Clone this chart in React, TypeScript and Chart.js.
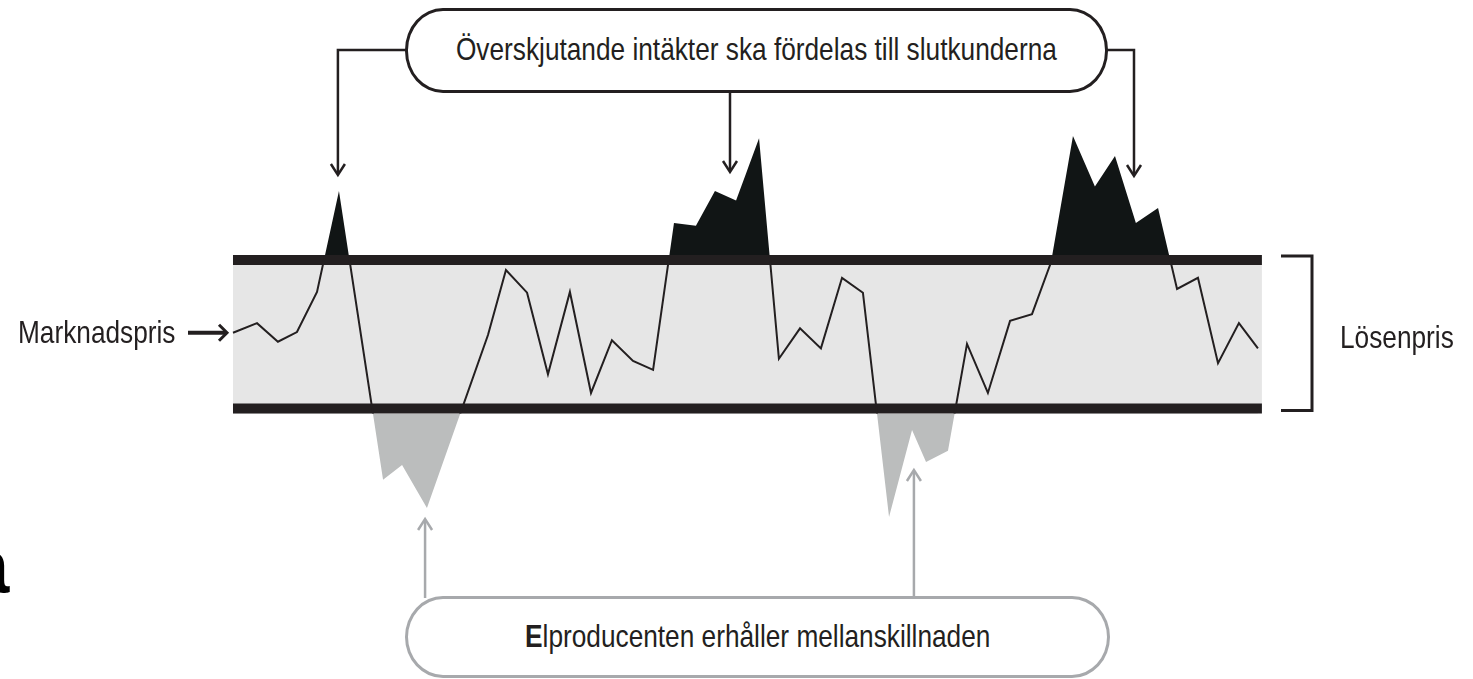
import React, { useEffect, useRef } from 'react';
import { Chart, registerables } from 'chart.js';

Chart.register(...registerables);

// Time (hours) and market price
const TIME = [0, 1.15, 2.15, 3.06, 4.02, 5.07, 7.18, 8.09, 9.28, 12.2, 13.06, 14.07, 15.07, 16.12, 17.13, 18.13, 19.14, 20.1, 21.1, 22.15, 23.06, 24.07, 25.17, 26.12, 27.13, 28.13, 29.14, 30.14, 31.39, 32.49, 33.16, 34.21, 35.12, 36.12, 37.18, 38.23, 39.14, 40.19, 41.24, 42.2, 43.2, 44.26, 45.17, 46.17, 47.13, 48.13, 49.04];
const PRICE = [40.2, 41.5, 39.0, 40.3, 45.7, 59.3, 20.4, 22.4, 16.6, 39.9, 48.65, 45.6, 34.6, 45.7, 32.1, 39.2, 36.4, 35.2, 55.0, 54.6, 59.3, 58.0, 66.4, 36.7, 40.8, 38.1, 47.6, 45.6, 15.4, 27.1, 22.8, 24.3, 38.7, 32.1, 41.8, 42.7, 49.7, 66.7, 59.9, 64.0, 55.0, 57.0, 46.1, 47.6, 36.1, 41.5, 38.1];

// Strike prices (Lösenpris band) and band time span
const STRIKE_LOW = 30;
const STRIKE_HIGH = 50;
const BAND_START = 0;
const BAND_END = 49.23;

// Callout targets (time units)
const TOP_ARROWS = [5.02, 23.78, 43.11];
const BOTTOM_ARROWS = [9.19, 32.58];

const TEXT_TOP = 'Överskjutande intäkter ska fördelas till slutkunderna';
const TEXT_BOTTOM_FIRST = 'E';
const TEXT_BOTTOM_REST = 'lproducenten erhåller mellanskillnaden';
const TEXT_LEFT = 'Marknadspris';
const TEXT_RIGHT = 'Lösenpris';

// Layout
const W = 1473;
const H = 679;
const X_MIN = -11.148;
const X_MAX = 59.33;
const Y_MIN = -6.43;
const Y_MAX = 85.02;
const STRIKE_WIDTH = 10;
const PX_PER_UNIT = H / (Y_MAX - Y_MIN);
const HIGH_EDGE = STRIKE_HIGH + STRIKE_WIDTH / 2 / PX_PER_UNIT;
const LOW_EDGE = STRIKE_LOW - STRIKE_WIDTH / 2 / PX_PER_UNIT;

const INK = '#231f20';
const GREY_INK = '#a7a9ac';

function arrowHead(ctx: CanvasRenderingContext2D, x: number, y: number, dir: number, wing: number, len: number) {
  // dir: 1 pointing down, -1 pointing up
  ctx.beginPath();
  ctx.moveTo(x - wing, y - dir * len);
  ctx.lineTo(x, y);
  ctx.lineTo(x + wing, y - dir * len);
  ctx.stroke();
}

const overlayPlugin = {
  id: 'overlay',
  beforeDatasetDraw(chart: any, args: any) {
    if (args.index === 0) {
      const ctx = chart.ctx;
      const ys = chart.scales.y;
      const top = ys.getPixelForValue(HIGH_EDGE);
      const bot = ys.getPixelForValue(LOW_EDGE);
      ctx.save();
      ctx.beginPath();
      ctx.rect(0, top, chart.width, bot - top);
      ctx.clip();
    }
  },
  afterDatasetDraw(chart: any, args: any) {
    if (args.index === 0) chart.ctx.restore();
  },
  afterDraw(chart: any) {
    const ctx: CanvasRenderingContext2D = chart.ctx;
    const xs = chart.scales.x;
    const ys = chart.scales.y;
    ctx.save();
    ctx.lineCap = 'butt';
    ctx.lineJoin = 'miter';

    // top connectors
    ctx.strokeStyle = INK;
    ctx.lineWidth = 2.5;
    const a1 = xs.getPixelForValue(TOP_ARROWS[0]);
    const a2 = xs.getPixelForValue(TOP_ARROWS[1]);
    const a3 = xs.getPixelForValue(TOP_ARROWS[2]);
    ctx.beginPath();
    ctx.moveTo(406, 50);
    ctx.lineTo(a1, 50);
    ctx.lineTo(a1, 174);
    ctx.stroke();
    arrowHead(ctx, a1, 175, 1, 7, 11);
    ctx.beginPath();
    ctx.moveTo(a2, 92);
    ctx.lineTo(a2, 171);
    ctx.stroke();
    arrowHead(ctx, a2, 172, 1, 7, 11);
    ctx.beginPath();
    ctx.moveTo(1107, 50);
    ctx.lineTo(a3, 50);
    ctx.lineTo(a3, 175);
    ctx.stroke();
    arrowHead(ctx, a3, 176, 1, 7, 11);

    // bottom connectors
    ctx.strokeStyle = GREY_INK;
    const b1 = xs.getPixelForValue(BOTTOM_ARROWS[0]);
    const b2 = xs.getPixelForValue(BOTTOM_ARROWS[1]);
    ctx.beginPath();
    ctx.moveTo(b1, 598);
    ctx.lineTo(b1, 520);
    ctx.stroke();
    arrowHead(ctx, b1, 519, -1, 7, 11);
    ctx.beginPath();
    ctx.moveTo(b2, 598);
    ctx.lineTo(b2, 471);
    ctx.stroke();
    arrowHead(ctx, b2, 470, -1, 7, 11);

    // Marknadspris arrow
    const startY = ys.getPixelForValue(PRICE[0]);
    const startX = xs.getPixelForValue(TIME[0]);
    ctx.strokeStyle = INK;
    ctx.lineWidth = 4;
    ctx.beginPath();
    ctx.moveTo(188, startY);
    ctx.lineTo(startX - 8, startY);
    ctx.stroke();
    ctx.lineWidth = 3;
    arrowHead(ctx, startX - 6, startY, 0, 0, 0);
    ctx.beginPath();
    ctx.moveTo(startX - 14, startY - 8);
    ctx.lineTo(startX - 6, startY);
    ctx.lineTo(startX - 14, startY + 8);
    ctx.stroke();

    // Lösenpris bracket
    const yHi = ys.getPixelForValue(STRIKE_HIGH) - 4;
    const yLo = ys.getPixelForValue(STRIKE_LOW) + 2;
    ctx.lineWidth = 3;
    ctx.beginPath();
    ctx.moveTo(1281, yHi);
    ctx.lineTo(1312, yHi);
    ctx.lineTo(1312, yLo);
    ctx.lineTo(1281, yLo);
    ctx.stroke();
    ctx.restore();
  },
};

const textStyle: React.CSSProperties = {
  fontFamily: '"Liberation Sans", Arial, sans-serif',
  fontSize: 32,
  lineHeight: '32px',
  color: INK,
  whiteSpace: 'nowrap',
  display: 'inline-block',
  transform: 'scaleX(0.82)',
};

export default function App() {
  const ref = useRef<HTMLCanvasElement | null>(null);

  useEffect(() => {
    if (!ref.current) return;
    const price = TIME.map((t, i) => ({ x: t, y: PRICE[i] }));
    const chart = new Chart(ref.current, {
      type: 'line',
      data: {
        datasets: [
          {
            label: 'Marknadspris',
            data: price,
            borderColor: INK,
            borderWidth: 2,
            pointRadius: 0,
            tension: 0,
            fill: false,
          },
          {
            label: 'Lösenpris (övre)',
            data: [{ x: BAND_START, y: STRIKE_HIGH }, { x: BAND_END, y: STRIKE_HIGH }],
            borderColor: INK,
            borderWidth: STRIKE_WIDTH,
            pointRadius: 0,
            fill: false,
          },
          {
            label: 'Lösenpris (nedre)',
            data: [{ x: BAND_START, y: STRIKE_LOW }, { x: BAND_END, y: STRIKE_LOW }],
            borderColor: INK,
            borderWidth: STRIKE_WIDTH,
            pointRadius: 0,
            fill: false,
          },
          {
            label: 'Överskjutande intäkter',
            data: price,
            borderWidth: 0,
            borderColor: 'rgba(0,0,0,0)',
            pointRadius: 0,
            tension: 0,
            fill: { target: { value: HIGH_EDGE }, above: '#111515', below: 'rgba(0,0,0,0)' },
          },
          {
            label: 'Mellanskillnad',
            data: price,
            borderWidth: 0,
            borderColor: 'rgba(0,0,0,0)',
            pointRadius: 0,
            tension: 0,
            fill: { target: { value: LOW_EDGE }, above: 'rgba(0,0,0,0)', below: '#bbbdbd' },
          },
          {
            label: 'Band',
            data: [{ x: BAND_START, y: STRIKE_HIGH }, { x: BAND_END, y: STRIKE_HIGH }],
            borderWidth: 0,
            borderColor: 'rgba(0,0,0,0)',
            pointRadius: 0,
            fill: { target: { value: STRIKE_LOW }, above: '#e6e6e6', below: '#e6e6e6' },
          },
        ],
      },
      options: {
        responsive: false,
        animation: false,
        devicePixelRatio: 1,
        layout: { padding: 0, autoPadding: false },
        plugins: { legend: { display: false }, tooltip: { enabled: false } },
        events: [],
        scales: {
          x: { type: 'linear', display: false, min: X_MIN, max: X_MAX },
          y: { type: 'linear', display: false, min: Y_MIN, max: Y_MAX },
        },
      },
      plugins: [overlayPlugin],
    } as any);
    return () => chart.destroy();
  }, []);

  return (
    <div style={{ position: 'absolute', left: 0, top: 0, width: W, height: H, overflow: 'hidden', background: '#fff' }}>
      <canvas ref={ref} width={W} height={H} style={{ position: 'absolute', left: 0, top: 0, width: W, height: H }} />
      <div
        style={{
          position: 'absolute', left: 405, top: 8, width: 703, height: 85, boxSizing: 'border-box',
          border: `3px solid ${INK}`, borderRadius: '38px / 42px', background: '#fff',
          display: 'flex', alignItems: 'center', justifyContent: 'center',
        }}
      >
        <span style={{ ...textStyle, marginTop: -4 }}>{TEXT_TOP}</span>
      </div>
      <div
        style={{
          position: 'absolute', left: 405, top: 596, width: 705, height: 82, boxSizing: 'border-box',
          border: `3px solid ${GREY_INK}`, borderRadius: '38px / 41px', background: '#fff',
          display: 'flex', alignItems: 'center', justifyContent: 'center',
        }}
      >
        <span style={{ ...textStyle, marginTop: -2 }}>
          <span style={{ fontWeight: 'bold' }}>{TEXT_BOTTOM_FIRST}</span>
          {TEXT_BOTTOM_REST}
        </span>
      </div>
      <div style={{ position: 'absolute', left: 18, top: 316 }}>
        <span style={{ ...textStyle, transformOrigin: 'left center' }}>{TEXT_LEFT}</span>
      </div>
      <div style={{ position: 'absolute', left: 1340, top: 321 }}>
        <span style={{ ...textStyle, transformOrigin: 'left center' }}>{TEXT_RIGHT}</span>
      </div>
      <div
        style={{
          position: 'absolute', left: -33, top: 528, fontFamily: '"Liberation Sans", Arial, sans-serif',
          fontWeight: 'bold', fontSize: 76, lineHeight: '76px', color: '#000',
        }}
      >
        a
      </div>
    </div>
  );
}
